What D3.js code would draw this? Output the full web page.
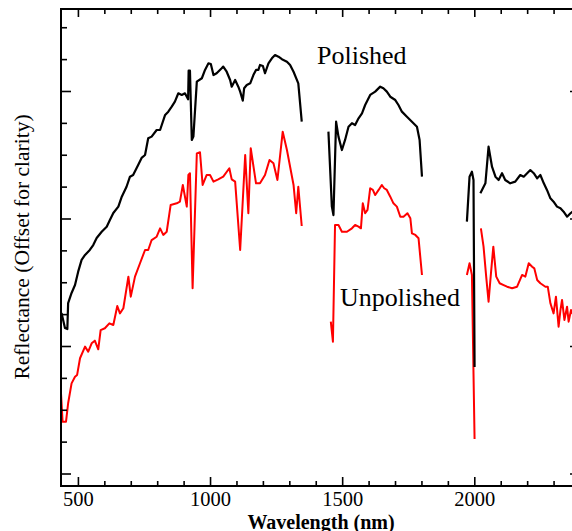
<!DOCTYPE html>
<html>
<head>
<meta charset="utf-8">
<script src="https://cdn.jsdelivr.net/npm/d3@7"></script>
<style>
  body { margin: 0; background: #fff; }
  svg { display: block; }
</style>
</head>
<body>
<div id="chart"></div>
<script>
// wavelength (nm), reflectance (arbitrary units, offset for clarity)
const polished1 = [
  [438,1.259],[451,1.141],[460,1.133],[463,1.337],[476,1.416],[489,1.478],[501,1.583],[514,1.675],
  [527,1.714],[545,1.753],[558,1.792],[571,1.847],[590,1.896],[609,1.936],[621,1.988],[634,2.043],
  [653,2.093],[666,2.171],[684,2.249],[697,2.328],[709,2.341],[728,2.420],[741,2.475],[754,2.498],
  [766,2.629],[779,2.642],[798,2.694],[811,2.694],[830,2.812],[842,2.838],[855,2.877],[867,2.916],
  [880,2.982],[893,2.969],[905,2.982],[917,2.935],[919,3.159],[924,3.159],[931,2.616],[937,2.642],
  [950,3.073],[969,3.100],[981,3.165],[994,3.217],[1003,3.212],[1013,3.125],[1025,3.139],[1044,3.178],
  [1050,3.191],[1063,3.151],[1076,3.086],[1082,3.034],[1095,3.086],[1107,3.034],[1114,2.995],[1124,2.924],
  [1129,3.021],[1139,3.047],[1152,3.060],[1164,3.125],[1174,3.165],[1183,3.165],[1189,3.204],[1200,3.196],
  [1208,3.139],[1221,3.217],[1234,3.256],[1246,3.282],[1259,3.269],[1272,3.249],[1291,3.230],[1303,3.204],
  [1316,3.151],[1334,3.060],[1347,2.759]
];
const polished2 = [
  [1448,2.681],[1461,2.093],[1467,2.027],[1477,2.759],[1486,2.642],[1499,2.537],[1511,2.616],[1524,2.720],
  [1537,2.747],[1549,2.733],[1562,2.786],[1575,2.825],[1587,2.890],[1606,2.969],[1625,2.995],[1644,3.034],
  [1656,3.021],[1669,2.995],[1682,2.955],[1701,2.929],[1713,2.890],[1726,2.838],[1745,2.798],[1764,2.759],
  [1783,2.720],[1793,2.616],[1802,2.328]
];
const polished3 = [[1972,1.975],[1982,2.328],[1991,2.367],[1997,2.302],[2001,0.835]];
const polished4 = [
  [2023,2.198],[2042,2.276],[2054,2.563],[2067,2.406],[2080,2.328],[2092,2.302],[2105,2.355],[2117,2.302],
  [2136,2.276],[2155,2.289],[2174,2.341],[2187,2.328],[2200,2.355],[2212,2.380],[2225,2.355],[2238,2.315],
  [2250,2.341],[2263,2.276],[2275,2.224],[2288,2.158],[2300,2.132],[2313,2.093],[2326,2.080],[2338,2.053],
  [2351,2.014],[2364,2.041],[2371,2.053],[2385,2.060]
];

const unpolished1 = [
  [436,0.629],[442,0.406],[455,0.406],[463,0.551],[476,0.707],[489,0.759],[497,0.773],[508,0.904],
  [527,0.995],[539,0.955],[552,1.021],[564,1.042],[577,0.974],[586,1.125],[602,1.139],[619,1.178],
  [634,1.165],[649,1.314],[659,1.256],[672,1.296],[691,1.544],[700,1.387],[716,1.544],[735,1.649],
  [754,1.753],[766,1.753],[779,1.831],[798,1.857],[811,1.923],[823,1.871],[836,1.896],[851,2.106],
  [874,2.119],[886,2.132],[897,2.263],[912,2.093],[918,2.341],[924,2.355],[934,1.453],[950,2.511],
  [962,2.519],[972,2.263],[987,2.341],[1000,2.341],[1013,2.289],[1031,2.307],[1050,2.328],[1073,2.394],
  [1082,2.307],[1095,2.289],[1114,1.753],[1133,2.498],[1145,2.041],[1154,2.551],[1174,2.276],[1189,2.276],
  [1208,2.341],[1225,2.459],[1240,2.433],[1255,2.302],[1275,2.681],[1291,2.537],[1316,2.263],[1326,2.041],
  [1334,2.249],[1347,1.941]
];
const unpolished2 = [
  [1457,1.191],[1465,1.034],[1473,1.949],[1486,1.949],[1499,1.896],[1518,1.896],[1537,1.923],[1549,1.949],
  [1562,1.936],[1571,1.923],[1578,2.119],[1587,2.041],[1596,2.067],[1606,2.237],[1616,2.224],[1625,2.184],
  [1638,2.224],[1650,2.263],[1659,2.237],[1669,2.224],[1682,2.171],[1694,2.119],[1707,2.093],[1720,2.014],
  [1732,2.014],[1747,2.041],[1758,2.002],[1764,1.884],[1777,1.871],[1789,1.845],[1802,1.557]
];
const unpolished3 = [[1972,1.557],[1982,1.649],[1991,1.557],[2001,0.271]];
const unpolished4 = [
  [2025,1.923],[2035,1.779],[2045,1.544],[2054,1.347],[2063,1.570],[2072,1.779],[2083,1.544],[2096,1.492],
  [2111,1.478],[2124,1.465],[2143,1.453],[2162,1.465],[2181,1.557],[2193,1.544],[2206,1.649],[2219,1.622],
  [2227,1.609],[2238,1.518],[2250,1.492],[2269,1.465],[2278,1.465],[2288,1.335],[2300,1.256],[2309,1.387],
  [2319,1.151],[2326,1.282],[2332,1.361],[2341,1.204],[2351,1.308],[2357,1.191],[2366,1.282],[2371,1.256],
  [2385,1.270]
];

const xMajor = [500, 1000, 1500, 2000];
const xMinor = d3.range(500, 2401, 100).filter(v => !xMajor.includes(v));
const yMajor = [0, 1, 2, 3];
const yMinor = d3.range(0.25, 3.6, 0.25).filter(v => !yMajor.includes(v));

(function spectraChart(){
const width = 572, height = 531;
const plotLeft = 61, plotRight = 580, plotTop = 9, plotBottom = 486;

const x = d3.scaleLinear().domain([436, 2400]).range([plotLeft, plotRight]);
const y = d3.scaleLinear().domain([-0.098, 3.643]).range([plotBottom, plotTop]);

const svg = d3.select("#chart").append("svg")
    .attr("width", width)
    .attr("height", height)
    .attr("viewBox", [0, 0, width, height]);

const line = d3.line().x(d => x(d[0])).y(d => y(d[1]));

// curves: red first, black drawn over it
const plot = svg.append("g");
[unpolished1, unpolished2, unpolished3, unpolished4].forEach(seg => {
  plot.append("path").datum(seg)
      .attr("d", line)
      .attr("fill", "none")
      .attr("stroke", "#ff0000")
      .attr("stroke-width", 2)
      .attr("stroke-linejoin", "round");
});
[polished1, polished2, polished3, polished4].forEach(seg => {
  plot.append("path").datum(seg)
      .attr("d", line)
      .attr("fill", "none")
      .attr("stroke", "#000")
      .attr("stroke-width", 2.2)
      .attr("stroke-linejoin", "round");
});

const serif = "'Liberation Serif', 'Times New Roman', serif";

// frame with ticks on all four sides, pointing inward
const tickW = 1.6;
svg.append("g")
    .attr("transform", `translate(0,${plotBottom})`)
    .call(d3.axisBottom(x).tickValues(xMajor).tickSize(-9).tickSizeOuter(0).tickPadding(5).tickFormat(d3.format("d")))
    .call(g => g.select(".domain").remove())
    .call(g => g.selectAll(".tick line").attr("stroke-width", tickW))
    .call(g => g.selectAll(".tick text")
        .attr("font-family", serif)
        .attr("font-size", 20.5)
        .attr("fill", "#000"));
svg.append("g")
    .attr("transform", `translate(0,${plotBottom})`)
    .call(d3.axisBottom(x).tickValues(xMinor).tickSize(-5).tickFormat(""))
    .call(g => g.select(".domain").remove())
    .call(g => g.selectAll(".tick line").attr("stroke-width", tickW));
svg.append("g")
    .attr("transform", `translate(0,${plotTop})`)
    .call(d3.axisTop(x).tickValues(xMajor).tickSize(-8).tickFormat(""))
    .call(g => g.select(".domain").remove())
    .call(g => g.selectAll(".tick line").attr("stroke-width", tickW));
svg.append("g")
    .attr("transform", `translate(0,${plotTop})`)
    .call(d3.axisTop(x).tickValues(xMinor).tickSize(-5).tickFormat(""))
    .call(g => g.select(".domain").remove())
    .call(g => g.selectAll(".tick line").attr("stroke-width", tickW));

[[d3.axisLeft, plotLeft], [d3.axisRight, plotRight]].forEach(([ax, pos]) => {
  svg.append("g")
      .attr("transform", `translate(${pos},0)`)
      .call(ax(y).tickValues(yMajor).tickSize(-10).tickFormat(""))
      .call(g => g.select(".domain").remove())
      .call(g => g.selectAll(".tick line").attr("stroke-width", tickW));
  svg.append("g")
      .attr("transform", `translate(${pos},0)`)
      .call(ax(y).tickValues(yMinor).tickSize(-6).tickFormat(""))
      .call(g => g.select(".domain").remove())
      .call(g => g.selectAll(".tick line").attr("stroke-width", tickW));
});

svg.append("rect")
    .attr("x", plotLeft).attr("y", plotTop)
    .attr("width", plotRight - plotLeft).attr("height", plotBottom - plotTop)
    .attr("fill", "none")
    .attr("stroke", "#000")
    .attr("stroke-width", 2);

svg.append("text")
    .attr("x", 321).attr("y", 528.5)
    .attr("text-anchor", "middle")
    .attr("font-family", serif)
    .attr("font-size", 20)
    .attr("font-weight", "bold")
    .text("Wavelength (nm)");

svg.append("text")
    .attr("transform", "translate(29,247) rotate(-90)")
    .attr("text-anchor", "middle")
    .attr("font-family", serif)
    .attr("font-size", 21.5)
    .text("Reflectance (Offset for clarity)");

svg.append("text")
    .attr("x", 317).attr("y", 64)
    .attr("font-family", serif)
    .attr("font-size", 26)
    .text("Polished");

svg.append("text")
    .attr("x", 340).attr("y", 306)
    .attr("font-family", serif)
    .attr("font-size", 26)
    .text("Unpolished");
})();
</script>
</body>
</html>
